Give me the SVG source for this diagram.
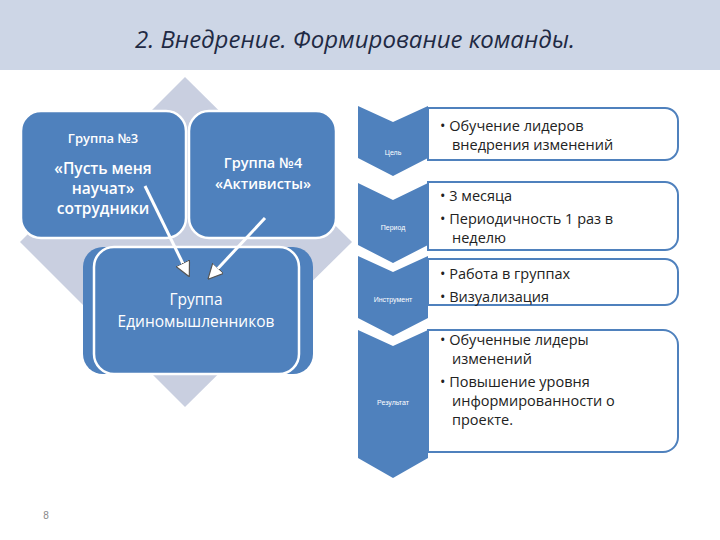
<svg xmlns="http://www.w3.org/2000/svg" width="720" height="540" viewBox="0 0 720 540">
<style>
.box{fill:#4f81bd;stroke:#fff;stroke-width:2.5}
.w{fill:#fff;font-family:"Open Sans","Liberation Sans",sans-serif;text-anchor:middle}
.lbl{fill:#fff;font-family:"Liberation Sans",sans-serif;font-size:7px;text-anchor:middle}
.t{fill:#222;font-family:"Open Sans","Liberation Sans",sans-serif;font-size:14.5px}
.chev{fill:#4f81bd}
.tb{fill:#fff;stroke:#4f81bd;stroke-width:2}
</style>
<defs>
<marker id="ah" viewBox="0 0 10 10" refX="8" refY="5" markerWidth="5" markerHeight="5" orient="auto"><path d="M0,0L10,5L0,10z" fill="#fff" stroke="#555" stroke-width="0.8"/></marker>
</defs>
<rect x="0" y="0" width="720" height="70" fill="#cdd6e6"/>
<text x="355" y="48" font-family="Open Sans,Liberation Sans,sans-serif" font-size="24" font-style="italic" fill="#1f2a44" text-anchor="middle">2. Внедрение. Формирование команды.</text>
<polygon points="185,77 352,242 185,407 20,242" fill="#c9cfe0"/>
<g id="g3"><rect class="box" x="21" y="111" width="165" height="127" rx="20"/>
<text class="w" x="103" y="143" font-size="13" font-weight="600">Группа №3</text>
<text class="w" x="103" y="174" font-size="15.5" font-weight="600">«Пусть меня</text>
<text class="w" x="103" y="194" font-size="15.5" font-weight="600">научат»</text>
<text class="w" x="103" y="214" font-size="15.5" font-weight="600">сотрудники</text></g>
<g id="g4"><rect class="box" x="189" y="111" width="147" height="127" rx="20"/>
<text class="w" x="263" y="168" font-size="14.5" font-weight="600">Группа №4</text>
<text class="w" x="263" y="189" font-size="14.5" font-weight="600">«Активисты»</text></g>
<g id="g5"><rect x="83" y="247" width="230" height="127" rx="20" fill="#4f81bd"/>
<rect class="box" x="94" y="247" width="205" height="127" rx="20"/>
<text class="w" x="196" y="305" font-size="15.5">Группа</text>
<text class="w" x="196" y="327" font-size="15.5">Единомышленников</text></g>
<g id="connectors" stroke="#fff" stroke-width="3" fill="none" marker-end="url(#ah)">
<line x1="145" y1="186" x2="188" y2="274"/>
<line x1="265" y1="218" x2="210" y2="277"/>
</g>
<g id="c1"><polygon class="chev" points="358,106 393,122 428,106 428,158 393,176 358,158"/><text class="lbl" x="393" y="155">Цель</text></g>
<g id="c2"><polygon class="chev" points="358,183 393,200 428,183 428,245 393,263 358,245"/><text class="lbl" x="393" y="230">Период</text></g>
<g id="c3"><polygon class="chev" points="358,256 393,272 428,256 428,318 393,336 358,318"/><text class="lbl" x="393" y="302">Инструмент</text></g>
<g id="c4"><polygon class="chev" points="358,330 393,346 428,330 428,458 393,478 358,458"/><text class="lbl" x="393" y="405">Результат</text></g>
<g id="b1"><path class="tb" d="M428,108H665a13,13 0 0 1 13,13V147a13,13 0 0 1 -13,13H428z"/>
<text class="t" x="440" y="131">• Обучение лидеров</text><text class="t" x="452" y="150">внедрения изменений</text></g>
<g id="b2"><path class="tb" d="M428,182H665a13,13 0 0 1 13,13V237a13,13 0 0 1 -13,13H428z"/>
<text class="t" x="440" y="201">• 3 месяца</text><text class="t" x="440" y="224">• Периодичность 1 раз в</text><text class="t" x="452" y="243">неделю</text></g>
<g id="b3"><path class="tb" d="M428,259H665a13,13 0 0 1 13,13V292a13,13 0 0 1 -13,13H428z"/>
<text class="t" x="440" y="279">• Работа в группах</text><text class="t" x="440" y="302">• Визуализация</text></g>
<g id="b4"><path class="tb" d="M428,330H663a15,15 0 0 1 15,15V437a15,15 0 0 1 -15,15H428z"/>
<text class="t" x="440" y="345">• Обученные лидеры</text><text class="t" x="452" y="364">изменений</text><text class="t" x="440" y="387">• Повышение уровня</text><text class="t" x="452" y="406">информированности о</text><text class="t" x="452" y="425">проекте.</text></g>
<text x="46" y="519" font-family="Liberation Sans,sans-serif" font-size="10" fill="#888" text-anchor="middle">8</text>
</svg>
